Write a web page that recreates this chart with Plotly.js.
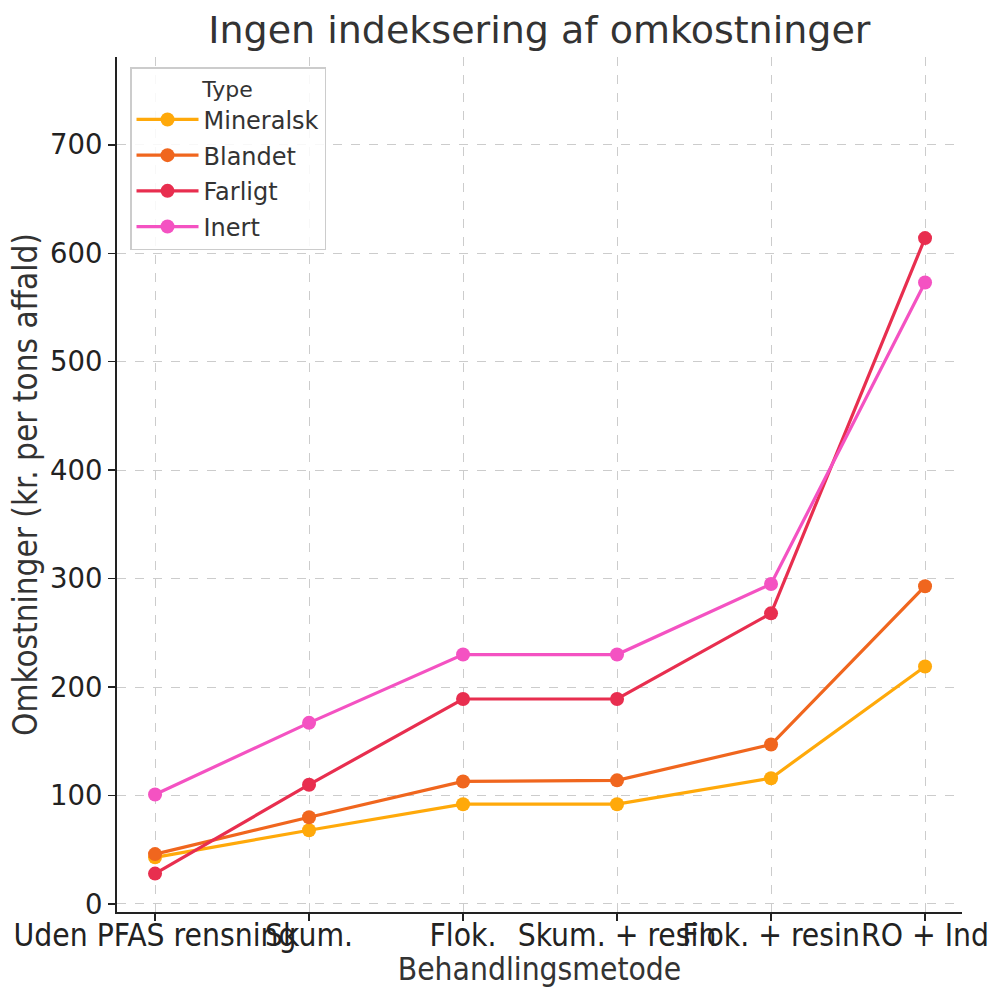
<!DOCTYPE html>
<html>
<head>
<meta charset="utf-8">
<script src="https://cdn.plot.ly/plotly-3.0.1.min.js"></script>
<style>html,body{margin:0;padding:0;background:#fff;}#chart{width:994px;height:987px;}</style>
</head>
<body>
<div id="chart"></div>
<script>
const categories = ["Uden PFAS rensning", "Skum.", "Flok.", "Skum. + resin", "Flok. + resin", "RO + Ind"];
const seriesNames = ["Mineralsk", "Blandet", "Farligt", "Inert"];
const mineralsk = [43, 68, 92, 92, 116, 219];
const blandet = [46, 80, 113, 114, 147, 293];
const farligt = [28, 110, 189, 189, 268, 614];
const inert = [101, 167, 230, 230, 295, 573];
const colors = ["#ffa90a", "#f0661e", "#e82e4f", "#f452c2"];
const yTicks = [0, 100, 200, 300, 400, 500, 600, 700];

const xIdx = categories.map((c, i) => i);
const allSeries = [mineralsk, blandet, farligt, inert];
const traces = allSeries.map((vals, k) => ({
  type: "scatter",
  mode: "lines+markers",
  name: seriesNames[k],
  legendgroup: "g" + k,
  x: xIdx,
  y: vals,
  line: {color: colors[k], width: 3.2},
  marker: {color: colors[k], size: 14}
}));

const layout = {
  width: 994,
  height: 987,
  margin: {l: 117, r: 32, t: 57, b: 75},
  paper_bgcolor: "#fff",
  plot_bgcolor: "#fff",
  showlegend: true,
  title: {
    text: "Ingen indeksering af omkostninger",
    font: {family: "DejaVu Sans", size: 38, color: "#333"},
    x: 0.5426, xanchor: "center",
    y: 0.97, yanchor: "middle"
  },
  xaxis: {
    range: [-0.247, 5.24],
    tickmode: "array",
    tickvals: xIdx,
    ticktext: categories,
    tickangle: 0,
    showgrid: true,
    gridcolor: "#cccccc",
    griddash: "dash",
    gridwidth: 1,
    zeroline: false,
    showline: true,
    linecolor: "#222",
    linewidth: 2,
    ticks: "outside",
    ticklen: 7,
    tickwidth: 1.5,
    tickcolor: "#222",
    ticklabelstandoff: -13,
    tickfont: {family: "DejaVu Sans Condensed, DejaVu Sans", size: 31.5, color: "#222"},
    title: {text: "Behandlingsmetode", font: {family: "DejaVu Sans Condensed, DejaVu Sans", size: 31.5, color: "#333"}, standoff: 6},
    automargin: false
  },
  yaxis: {
    range: [-7.4, 781],
    tickmode: "array",
    tickvals: yTicks,
    ticktext: yTicks.map(String),
    showgrid: true,
    gridcolor: "#cccccc",
    griddash: "dash",
    gridwidth: 1,
    zeroline: false,
    showline: true,
    linecolor: "#222",
    linewidth: 2,
    ticks: "outside",
    ticklen: 7,
    tickwidth: 1.5,
    tickcolor: "#222",
    tickfont: {family: "DejaVu Sans", size: 27.5, color: "#222"},
    title: {text: "Omkostninger (kr. per tons affald)", font: {family: "DejaVu Sans Condensed, DejaVu Sans", size: 33, color: "#333"}, standoff: 2},
    automargin: false
  },
  legend: {
    x: 0.0154, y: 0.988,
    xanchor: "left", yanchor: "top",
    bgcolor: "rgba(255,255,255,0.85)",
    bordercolor: "#cccccc",
    borderwidth: 1.5,
    font: {family: "DejaVu Sans", size: 24, color: "#333"},
    title: {text: "Type", side: "top center", font: {family: "DejaVu Sans", size: 22, color: "#333"}},
    itemwidth: 62,
    tracegroupgap: 1.5
  }
};

Plotly.newPlot("chart", traces, layout, {displayModeBar: false, staticPlot: true});
</script>
</body>
</html>
